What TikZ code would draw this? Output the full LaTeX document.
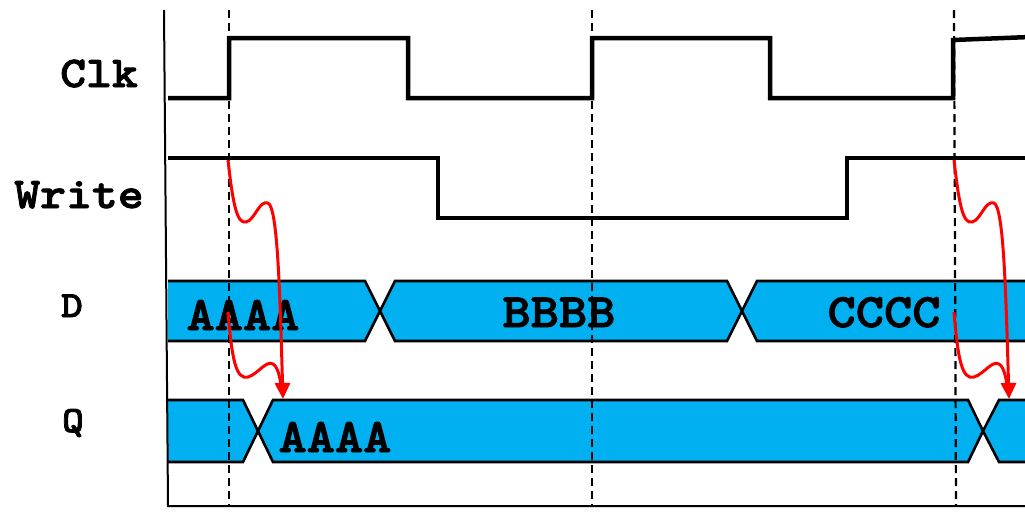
\documentclass[tikz,border=0pt]{standalone}
\usepackage{fontspec}
\usetikzlibrary{arrows.meta}
\newfontfamily\monob{lmmonolt10-bold}[Extension=.otf, FakeStretch=1.12, FakeBold=2]
\definecolor{bandblue}{RGB}{0,176,240}
\begin{document}
\begin{tikzpicture}[x=1pt,y=-1pt,
  sig/.style={line width=4.5pt, line join=miter},
  band/.style={fill=bandblue, draw=black, line width=2.6pt, line join=miter},
  guide/.style={line width=2.2pt, dash pattern=on 8pt off 5pt},
  delay/.style={red, line width=3pt},
  delayarrow/.style={delay, -{Triangle[length=16pt,width=15pt]}},
  lbl/.style={font=\fontsize{44}{44}\monob, anchor=base, inner sep=0pt},
  lblsmall/.style={font=\fontsize{37}{37}\monob, anchor=base, inner sep=0pt},
  data/.style={font=\fontsize{48}{48}\monob, anchor=base, inner sep=0pt}]
\useasboundingbox (0,0) rectangle (1025,512);
\clip (0,0) rectangle (1025,512);

% signal names
\node[lbl] (clk) at (99,87) {Clk};
\node[lbl] (write) at (79,208) {Write};
\node[lblsmall] (d) at (72,317) {D};
\node[lblsmall] (q) at (73,432) {Q};

% D bus
\path[band] (168,281) -- (365,281) -- (380,311) -- (365,341) -- (168,341);
\path[band] (395,281) -- (727,281) -- (742,311) -- (727,341) -- (395,341) -- (380,311) -- cycle;
\path[band] (1035,281) -- (757,281) -- (742,311) -- (757,341) -- (1035,341);
% Q bus
\path[band] (168,400) -- (243,400) -- (258,431) -- (243,462) -- (168,462);
\path[band] (273,400) -- (968,400) -- (983,431) -- (968,462) -- (273,462) -- (258,431) -- cycle;
\path[band] (1035,400) -- (999,400) -- (983,431) -- (999,462) -- (1035,462);

\node[data] (da) at (243,330) {AAAA};
\node[data] (db) at (559,327) {BBBB};
\node[data] (dc) at (884,327) {CCCC};
\node[data] (qa) at (335,452) {AAAA};

% axes
\draw[line width=2pt] (164,10) -- (168,506) -- (1030,506);

% Clk and Write
\draw[sig] (168,98) -- (229,98) -- (229,38) -- (408,38) -- (408,98) -- (592,98)
  -- (592,38) -- (770,38) -- (770,98) -- (953,98) -- (953,40) -- (1030,37);
\draw[sig] (168,158) -- (438,158) -- (438,218) -- (847,218) -- (847,158) -- (1030,158);

% clock edge guides
\draw[guide] (229,10) -- (229,506);
\draw[guide] (592,10) -- (592,506);
\draw[guide] (954,10) -- (956,506);

% delay arrows
\foreach \dx/\n in {0/a,726/b} {
  \begin{scope}[xshift=\dx]
    \coordinate (ws\n) at (228,160);
    \coordinate (ds\n) at (228,312);
    \coordinate (qt\n) at (283,399);
    \coordinate (qm\n) at (281,385);
    \draw[delayarrow] (ws\n) .. controls (233,205) and (237,224) .. (246,222)
      .. controls (255,220) and (259,200) .. (268,203)
      .. controls (278,207) and (280,300) .. (qt\n);
    \draw[delay] (ds\n) .. controls (232,360) and (236,380) .. (248,377)
      .. controls (258,374) and (266,360) .. (273,364)
      .. controls (278,367) and (280,378) .. (qm\n);
  \end{scope}
}
\end{tikzpicture}
\end{document}
